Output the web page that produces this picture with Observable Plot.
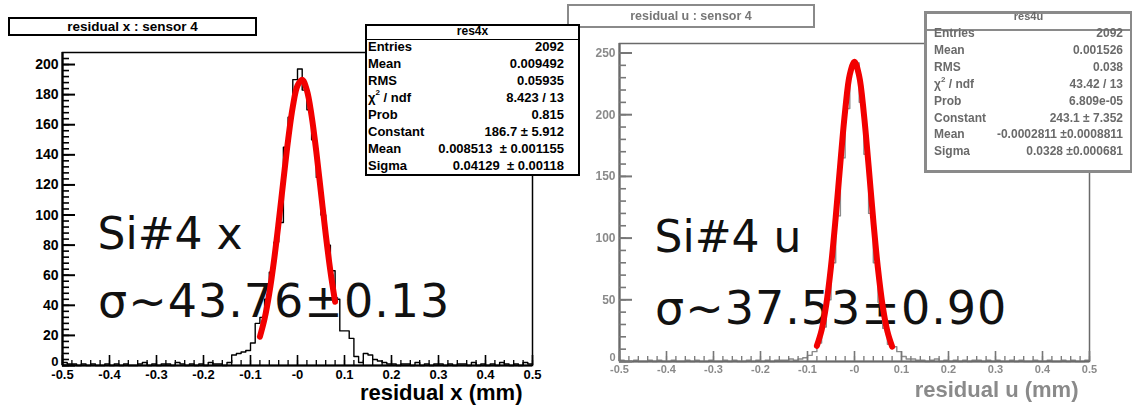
<!DOCTYPE html>
<html><head><meta charset="utf-8">
<script src="https://cdn.jsdelivr.net/npm/d3@7"></script>
<script src="https://cdn.jsdelivr.net/npm/@observablehq/plot@0.6"></script>
<style>
html,body{margin:0;padding:0;background:#fff;}
#wrap{position:relative;width:1132px;height:406px;overflow:hidden;background:#fff;font-family:"Liberation Sans",Arial,sans-serif;}
.panel{position:absolute;top:0;}
.tbox{position:absolute;box-sizing:border-box;text-align:center;font-weight:bold;background:#fff;white-space:nowrap;}
.sbox{position:absolute;box-sizing:border-box;background:#fff;font-weight:bold;white-space:nowrap;}
.sbox .hd{position:absolute;left:0;right:0;text-align:center;}
.sbox .hl{position:absolute;left:0;right:0;}
.sbox .row{position:absolute;display:flex;justify-content:space-between;}
.sbox sup{font-size:8px;line-height:0;position:relative;top:-1px;}
</style>
</head><body>
<div id="wrap">
  <div id="left" class="panel" style="left:0"></div>
  <div id="right" class="panel" style="left:566px"></div>
</div>
<script>
// ---------- data ----------
const binStart = -0.5, binWidth = 0.01;
const countsX = [2,1,1,0,1,0,1,0,0,1,
 0,1,0,1,0,0,1,2,0,1,
 0,1,1,0,2,1,0,1,0,1,
 0,2,1,1,0,2,7,8,9,10,
 15,28,32,44,62,82,95,145,165,190,
 197,183,170,150,125,100,80,63,44,23,
 23,18,6,2,8,7,4,3,2,1,
 1,0,1,1,0,2,0,1,0,1,
 1,0,1,0,1,1,0,2,0,1,
 0,1,0,2,1,0,1,0,2,1];
const countsU = [1,0,0,1,0,0,1,0,1,0,
 0,1,0,0,1,0,1,0,0,1,
 0,0,1,0,1,0,0,1,0,1,
 0,1,0,1,1,1,2,1,2,3,
 5,8,15,28,50,80,118,165,205,238,
 242,210,168,120,80,48,27,14,12,8,
 4,2,2,1,1,0,1,2,0,1,
 0,1,0,1,0,1,1,0,1,0,
 1,0,0,1,0,1,0,0,1,0,
 0,1,0,0,1,0,1,0,0,1];
const fitPos = [-0.08,-0.07,-0.06,-0.05,-0.04,-0.03,-0.02,-0.01,0,0.01,0.02,0.03,0.04,0.05,0.06,0.07,0.08];
const fitX = [19.1,31.1,48.0,69.7,95.4,123.0,149.8,171.9,186.0,189.9,182.8,165.9,142.1,114.7,87.3,62.7,42.4];
const fitU = [12.7,25.4,46.4,77.1,116.8,161.3,202.9,232.6,243,231.3,200.6,158.6,114.2,75.0,44.8,24.4,12.1];
const xTicks = [-0.5,-0.4,-0.3,-0.2,-0.1,0,0.1,0.2,0.3,0.4,0.5];
const xTickLabels = ["-0.5","-0.4","-0.3","-0.2","-0.1","-0","0.1","0.2","0.3","0.4","0.5"];
const yTicksX = [0,20,40,60,80,100,120,140,160,180,200];
const yTicksU = [0,50,100,150,200,250];
const titleX = "residual x : sensor 4", titleU = "residual u : sensor 4";
const axisLabelX = "residual x (mm)", axisLabelU = "residual u (mm)";
const annotX = ["Si#4 x", "σ~43.76±0.13"];
const annotU = ["Si#4 u", "σ~37.53±0.90"];
const statNameX = "res4x", statNameU = "res4u";
const statLabels = ["Entries","Mean","RMS","χ<sup>2</sup> / ndf","Prob","Constant","Mean","Sigma"];
const statValsX = ["2092","0.009492","0.05935","8.423 / 13","0.815","186.7 ± 5.912","0.008513 &nbsp;± 0.001155","0.04129 &nbsp;± 0.00118"];
const statValsU = ["2092","0.001526","0.038","43.42 / 13","6.809e-05","243.1 ± 7.352","-0.0002811 ±0.0008811","0.0328 ±0.000681"];

// ---------- helpers ----------
const W = 566, H = 406;
function histPoints(counts){
  const pts = counts.map((c,i)=>({x: binStart + i*binWidth, y: c}));
  pts.push({x: binStart + counts.length*binWidth, y: counts[counts.length-1]});
  return pts;
}
function fitPoints(vals){ return fitPos.map((x,i)=>({x, y: vals[i]})); }
const fmtX = d => xTickLabels[xTicks.findIndex(t => Math.abs(t-d) < 1e-9)];
const xMinor = d3.range(0, 51).map(i => -0.5 + i*0.02);

function panel({counts, fit, yMax, yMajor, yMinorStep, m, ink, tickInk, labelInk, histInk, annot, annotPos, axisLabel, labelDx, labelDy, yFont, xFont}){
  const fw = W - m.l - m.r, fh = H - m.t - m.b;
  const yMinor = d3.range(0, yMax, yMinorStep);
  return Plot.plot({
    width: W, height: H,
    marginLeft: m.l, marginRight: m.r, marginTop: m.t, marginBottom: m.b,
    x: {domain: [-0.5, 0.5]},
    y: {domain: [0, yMax]},
    style: {background: "transparent", fontFamily: "Liberation Sans, Arial, sans-serif", fontWeight: "bold", overflow: "visible"},
    marks: [
      Plot.text([annot[0]], {x: annotPos[0][0], y: annotPos[0][1], text: d => d, textAnchor: "start", fontFamily: "DejaVu Sans", fontWeight: "normal", fontSize: 44, fill: "#111"}),
      Plot.text([annot[1]], {x: annotPos[1][0], y: annotPos[1][1], text: d => d, textAnchor: "start", fontFamily: "DejaVu Sans", fontWeight: "normal", fontSize: 46, fill: "#111"}),
      Plot.lineY(histPoints(counts), {x: "x", y: "y", curve: "step-after", stroke: histInk, strokeWidth: 1.4}),
      Plot.line(fitPoints(fit), {x: "x", y: "y", curve: "catmull-rom", stroke: "#f20000", strokeWidth: 6}),
      Plot.frame({stroke: ink, strokeWidth: 1.5}),
      Plot.ruleX([-0.5], {stroke: ink, strokeWidth: 2.2}),
      Plot.ruleY([0], {stroke: ink, strokeWidth: 2.2}),
      Plot.ruleY(yMinor, {stroke: tickInk, strokeWidth: 1.6, insetRight: fw - 7}),
      Plot.ruleY(yMajor, {stroke: tickInk, strokeWidth: 2, insetRight: fw - 13}),
      Plot.ruleX(xMinor, {stroke: tickInk, strokeWidth: 1.3, insetTop: fh - 5}),
      Plot.ruleX(xTicks, {stroke: tickInk, strokeWidth: 1.6, insetTop: fh - 10}),
      Plot.axisY({ticks: yMajor.slice(1), tickSize: 0, tickPadding: 4, label: null, fontSize: yFont, fill: labelInk}),
      Plot.axisY({ticks: [0], tickSize: 0, tickPadding: 4, dy: -4, label: null, fontSize: yFont - 1, fill: labelInk}),
      Plot.axisX({ticks: xTicks, tickFormat: fmtX, tickSize: 0, tickPadding: 4, label: null, fontSize: xFont, fill: labelInk}),
      Plot.text([axisLabel], {frameAnchor: "bottom-right", text: d => d, textAnchor: "end", dx: labelDx, dy: labelDy, fontSize: 22, fill: labelInk})
    ]
  });
}

const left = panel({
  counts: countsX, fit: fitX, yMax: 208, yMajor: yTicksX, yMinorStep: 4,
  m: {l: 62, r: 34, t: 52, b: 41}, ink: "#000", tickInk: "#000", labelInk: "#000", histInk: "#000",
  annot: annotX, annotPos: [[-0.4255, 87.1], [-0.4245, 41.7]],
  axisLabel: axisLabelX, labelDx: -10, labelDy: 34, yFont: 14, xFont: 13
});
const right = panel({
  counts: countsU, fit: fitU, yMax: 257.7, yMajor: yTicksU, yMinorStep: 10,
  m: {l: 53, r: 43, t: 43, b: 45}, ink: "#6a6a6a", tickInk: "#777", labelInk: "#8a8a8a", histInk: "#8a8a8a",
  annot: annotU, annotPos: [[-0.4255, 99.8], [-0.4245, 42.7]],
  axisLabel: axisLabelU, labelDx: -11, labelDy: 35, yFont: 12, xFont: 11
});
document.getElementById("left").appendChild(left);
document.getElementById("right").appendChild(right);

// letter spacing for the sigma lines
[left, right].forEach(svg => {
  d3.select(svg).selectAll("text").filter(function(){ return this.textContent.startsWith("σ"); }).attr("letter-spacing", "1px");
});
// blur the low-resolution right panel (except overlay annotation)
{
  const svg = d3.select(right);
  const f = svg.insert("defs", ":first-child").append("filter").attr("id", "blurU")
    .attr("filterUnits", "userSpaceOnUse").attr("x", -10).attr("y", -10).attr("width", W + 20).attr("height", H + 20);
  f.append("feGaussianBlur").attr("stdDeviation", 0.6);
  svg.selectAll(":scope > g").filter(function(){ const t = this.textContent; return !(t.includes("Si#4") || t.includes("σ")); })
    .attr("filter", "url(#blurU)");
}

// ---------- title and stat boxes ----------
const wrap = document.getElementById("wrap");
function titleBox(text, l, t, w, h, border, color, fs, blur){
  const d = document.createElement("div");
  d.className = "tbox";
  d.style.cssText = `left:${l}px;top:${t}px;width:${w}px;height:${h}px;border:${border};color:${color};font-size:${fs}px;line-height:${h-4}px;${blur?"filter:blur(0.6px);":""}`;
  d.textContent = text;
  wrap.appendChild(d);
}
function statBox(name, vals, o){
  const d = document.createElement("div");
  d.className = "sbox";
  d.style.cssText = `left:${o.l}px;top:${o.t}px;width:${o.w}px;height:${o.h}px;border:${o.bw}px solid ${o.bc};color:${o.color};font-size:${o.fs}px;${o.blur?"filter:blur(0.6px);":""}`;
  let html = `<div class="hd" style="top:${o.hdTop}px;line-height:12px;font-size:${o.fs-1}px">${name}</div>`;
  html += `<div class="hl" style="top:${o.hlTop}px;height:${o.hlH}px;background:${o.bc}"></div>`;
  vals.forEach((v, k) => {
    html += `<div class="row" style="left:${o.padL}px;right:${o.padR}px;top:${o.row0 + k*o.rowStep}px;line-height:14px"><span>${statLabels[k]}</span><span>${v}</span></div>`;
  });
  d.innerHTML = html;
  wrap.appendChild(d);
}
titleBox(titleX, 8, 17, 249, 19, "2px solid #000", "#000", 13.5, false);
titleBox(titleU, 567, 4, 248, 24, "2px solid #8a8a8a", "#777", 12.5, true);
statBox(statNameX, statValsX, {l: 365, t: 24, w: 215, h: 152, bw: 2, bc: "#000", color: "#000", fs: 13,
  hdTop: -1, hlTop: 12.5, hlH: 1.5, padL: 1, padR: 14, row0: 13.5, rowStep: 17.1});
statBox(statNameU, statValsU, {l: 924, t: 11, w: 209, h: 162, bw: 3, bc: "#8a8a8a", color: "#6a6a6a", fs: 12,
  hdTop: -4, hlTop: 14.5, hlH: 2, padL: 7, padR: 7, row0: 12, rowStep: 16.9, blur: true});
</script>
</body></html>
